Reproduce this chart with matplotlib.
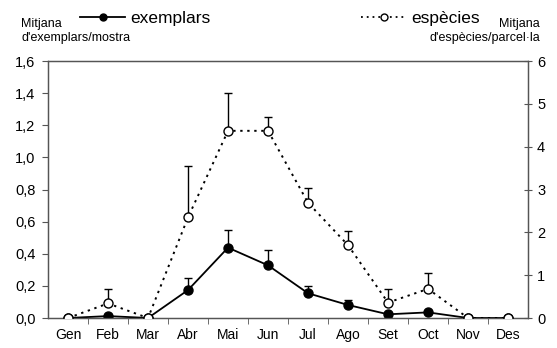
import numpy as np
import matplotlib.pyplot as plt
from matplotlib.lines import Line2D
from matplotlib.ticker import FuncFormatter, FixedLocator

plt.rcParams['font.family'] = ['Liberation Sans', 'DejaVu Sans']

# monthly means and upper error (top of whisker)
months = ['Gen', 'Feb', 'Mar', 'Abr', 'Mai', 'Jun',
          'Jul', 'Ago', 'Set', 'Oct', 'Nov', 'Des']
exemplars = [0.0, 0.012, 0.0, 0.174, 0.438, 0.328, 0.154, 0.081, 0.023, 0.035, 0.0, 0.0]
exemplars_top = [0.0, 0.012, 0.0, 0.247, 0.548, 0.423, 0.200, 0.112, 0.023, 0.035, 0.0, 0.0]
especies = [0.0, 0.34, 0.0, 2.35, 4.37, 4.37, 2.69, 1.70, 0.36, 0.68, 0.0, 0.0]
especies_top = [0.0, 0.67, 0.0, 3.56, 5.25, 4.70, 3.04, 2.03, 0.68, 1.04, 0.0, 0.0]

x = np.arange(len(months)) + 0.5
ex = np.array(exemplars)
sp = np.array(especies)
ex_err = np.clip(np.array(exemplars_top) - ex, 0, None)
sp_err = np.clip(np.array(especies_top) - sp, 0, None)

fig = plt.figure(figsize=(5.57, 3.48), dpi=100)
ax = fig.add_axes([0.0862, 0.0862, 0.948 - 0.0862, 0.8247 - 0.0862])
ax2 = ax.twinx()

spine_col = '#555555'

# exemplars on left axis
ax.errorbar(x, ex, yerr=[np.zeros_like(ex), ex_err], fmt='none',
            ecolor='black', elinewidth=1.0, capsize=3, capthick=1.0, zorder=2)
ax.plot(x, ex, '-', color='black', lw=1.3, marker='o', ms=6.5,
        mfc='black', mec='black', zorder=3)

# espècies on right axis
ax2.errorbar(x, sp, yerr=[np.zeros_like(sp), sp_err], fmt='none',
             ecolor='black', elinewidth=1.0, capsize=3, capthick=1.0, zorder=2)
ax2.plot(x, sp, linestyle=(0, (1.2, 2.4)), color='black', lw=1.4,
         marker='o', ms=6.5, mfc='white', mec='black', mew=1.0, zorder=3)

ax.set_xlim(0, 12)
ax.set_ylim(0, 1.6)
ax2.set_ylim(0, 6)

ax.set_xticks(x)
ax.set_xticklabels(months, fontsize=10)
ax.xaxis.set_minor_locator(FixedLocator(np.arange(1, 12)))
ax.tick_params(axis='x', which='major', length=0, pad=7)
ax.tick_params(axis='x', which='minor', length=4, direction='out', color=spine_col)

ax.set_yticks(np.arange(0, 1.61, 0.2))
ax.yaxis.set_major_formatter(FuncFormatter(lambda v, p: f'{v:.1f}'.replace('.', ',')))
ax.tick_params(axis='y', labelsize=10.5, length=4, pad=5, direction='out', color=spine_col)

ax2.set_yticks(np.arange(0, 7, 1))
ax2.tick_params(axis='y', labelsize=10.5, length=6, direction='inout', color=spine_col)

for a in (ax, ax2):
    for s in a.spines.values():
        s.set_color(spine_col)
        s.set_linewidth(0.9)

# axis titles
fig.text(21 / 557, 1 - 27 / 348, 'Mitjana', fontsize=9, ha='left', va='baseline')
fig.text(21 / 557, 1 - 41 / 348, "d'exemplars/mostra", fontsize=9, ha='left', va='baseline')
fig.text(540 / 557, 1 - 27 / 348, 'Mitjana', fontsize=9, ha='right', va='baseline')
fig.text(540 / 557, 1 - 41 / 348, "d'espècies/parcel·la", fontsize=9, ha='right', va='baseline')

# legends
h1 = Line2D([], [], color='black', lw=1.3, marker='o', ms=5, mfc='black')
h2 = Line2D([], [], color='black', lw=1.3, linestyle=(0, (1, 2.2)),
            marker='o', ms=5, mfc='white', mec='black')
leg1 = fig.legend([h1], ['exemplars'], loc='center left', frameon=False,
                  bbox_to_anchor=(80 / 557, 1 - 18 / 348), fontsize=12.5,
                  handlelength=2.6, handletextpad=0.3, borderpad=0, borderaxespad=0)
leg2 = fig.legend([h2], ['espècies'], loc='center left', frameon=False,
                  bbox_to_anchor=(361 / 557, 1 - 18 / 348), fontsize=12.5,
                  handlelength=2.6, handletextpad=0.3, borderpad=0, borderaxespad=0)

fig.savefig('out.png', dpi=100)
